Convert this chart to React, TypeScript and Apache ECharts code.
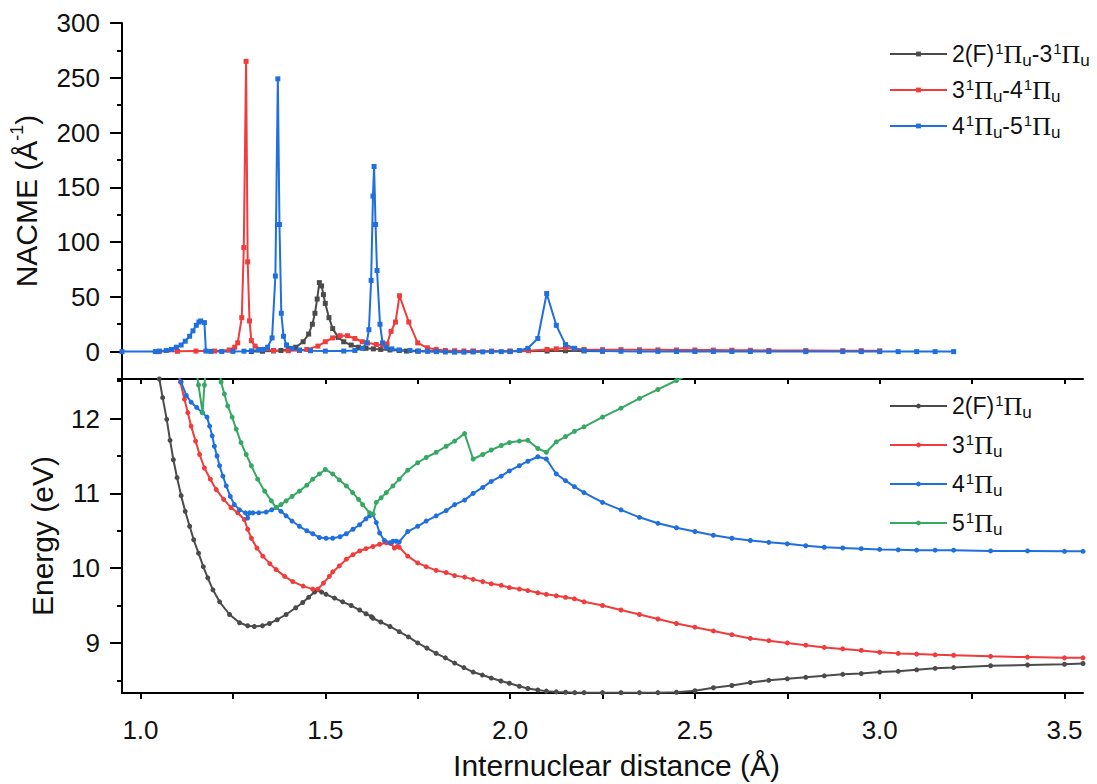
import React, { useEffect, useRef } from 'react';
import * as echarts from 'echarts';

// ---------- tick values ----------
const xMajorTicks = [1.0, 1.5, 2.0, 2.5, 3.0, 3.5];
const xAllTicks = [1.0, 1.25, 1.5, 1.75, 2.0, 2.25, 2.5, 2.75, 3.0, 3.25, 3.5];
const nacmeMajorTicks = [0, 50, 100, 150, 200, 250, 300];
const nacmeMinorTicks = [-25, 25, 75, 125, 175, 225, 275];
const energyMajorTicks = [9, 10, 11, 12];
const energyMinorTicks = [8.5, 9.5, 10.5, 11.5, 12.5];

// ---------- NACME (top panel) [R, NACME] ----------
const nacmeF3: [number, number][] = [
  [1.30, 0], [1.33, 0.3], [1.36, 0.6], [1.38, 1], [1.40, 2], [1.42, 4], [1.44, 9], [1.455, 16],
  [1.465, 25], [1.472, 35], [1.478, 48], [1.484, 63], [1.49, 60], [1.495, 52], [1.50, 44],
  [1.51, 31], [1.52, 21], [1.535, 13], [1.55, 9], [1.57, 6], [1.59, 4], [1.61, 3], [1.63, 2.5],
  [1.65, 2], [1.675, 1.5], [1.70, 1], [1.72, 0.5], [1.75, 0.4], [1.80, 0.3], [1.90, 0.3],
  [2.0, 0.3], [2.1, 0.5], [2.15, 0.8], [2.2, 0.6], [2.25, 0.4],
];
const nacme34: [number, number][] = [
  [1.05, 0], [1.10, 0.3], [1.15, 0.5], [1.20, 0.5], [1.24, 1.5], [1.255, 4], [1.263, 8],
  [1.274, 31], [1.2795, 95], [1.2857, 265], [1.290, 82], [1.295, 28], [1.30, 10], [1.31, 5],
  [1.33, 2], [1.36, 1], [1.40, 0.8], [1.43, 1], [1.45, 2], [1.48, 5], [1.50, 9], [1.52, 12.5],
  [1.54, 14.5], [1.56, 14.5], [1.58, 12], [1.60, 9], [1.614, 8], [1.638, 6.5], [1.655, 6],
  [1.667, 7], [1.678, 18.5], [1.69, 27], [1.7007, 51], [1.726, 27], [1.75, 8], [1.776, 3.5],
  [1.80, 2], [1.825, 1], [1.85, 0.8], [1.875, 0.6], [1.90, 0.5], [1.95, 0.5], [2.0, 0.5],
  [2.05, 0.8], [2.10, 2], [2.125, 2.5], [2.15, 3.5], [2.175, 2.5], [2.20, 2], [2.25, 1.8],
  [2.30, 1.8], [2.35, 1.7], [2.40, 1.6], [2.45, 1.5], [2.50, 1.5], [2.55, 1.4], [2.60, 1.3],
  [2.65, 1.2], [2.70, 1.1], [2.80, 1], [2.90, 0.9], [2.95, 0.9], [3.0, 0.8],
];
const nacme45: [number, number][] = [
  [0.95, 0], [1.04, 0], [1.051, 0.5], [1.07, 1], [1.084, 2], [1.097, 4], [1.11, 6], [1.121, 9.5],
  [1.133, 14], [1.142, 19], [1.151, 24], [1.158, 27], [1.163, 28], [1.173, 26.5], [1.177, 0.5],
  [1.19, 0.2], [1.22, 0.1], [1.25, 0.2], [1.28, 0.4], [1.30, 0.7], [1.32, 1.5], [1.333, 2],
  [1.344, 4], [1.356, 12.5], [1.365, 69], [1.3716, 249], [1.376, 116], [1.381, 35], [1.387, 14],
  [1.395, 6], [1.41, 3], [1.43, 1.5], [1.46, 0.8], [1.50, 0.5], [1.55, 0.5], [1.58, 1], [1.60, 3],
  [1.612, 8], [1.618, 20], [1.624, 65], [1.629, 142], [1.632, 169], [1.636, 116], [1.640, 74],
  [1.648, 25], [1.655, 8], [1.665, 4], [1.68, 2.5], [1.70, 1.5], [1.729, 1], [1.752, 0.5],
  [1.777, 0.2], [1.801, 0], [1.825, -0.3], [1.85, -0.5], [1.875, -0.5], [1.90, -0.3],
  [1.926, -0.2], [1.95, 0], [1.976, 0], [2.0, 0], [2.025, 1], [2.048, 3], [2.075, 12],
  [2.099, 53], [2.125, 24], [2.15, 6.4], [2.174, 3], [2.20, 1], [2.25, 0.5], [2.30, 0.3],
  [2.35, 0.2], [2.40, 0.2], [2.45, 0.1], [2.50, 0.1], [2.55, 0.1], [2.60, 0.1], [2.65, 0.1],
  [2.70, 0.1], [2.80, 0], [2.90, 0], [2.95, 0], [3.0, 0], [3.05, 0], [3.10, 0], [3.15, 0], [3.20, 0],
];

// ---------- Energies (bottom panel) [R, eV] ----------
const energyF: [number, number][] = [
  [1.045, 12.75], [1.051, 12.53], [1.060, 12.28], [1.071, 11.99], [1.080, 11.71], [1.089, 11.45],
  [1.099, 11.21], [1.110, 10.97], [1.121, 10.76], [1.133, 10.56], [1.144, 10.38], [1.157, 10.20],
  [1.170, 10.02], [1.182, 9.87], [1.196, 9.71], [1.214, 9.55], [1.241, 9.38], [1.268, 9.27],
  [1.29, 9.23], [1.308, 9.22], [1.33, 9.23], [1.349, 9.26], [1.37, 9.31], [1.394, 9.38],
  [1.42, 9.47], [1.439, 9.54], [1.455, 9.61], [1.471, 9.68], [1.48, 9.71], [1.49, 9.68],
  [1.502, 9.65], [1.525, 9.6], [1.547, 9.55], [1.57, 9.5], [1.593, 9.44], [1.61, 9.39],
  [1.625, 9.35], [1.629, 9.33], [1.65, 9.28], [1.675, 9.22], [1.70, 9.15], [1.725, 9.08],
  [1.75, 9.0], [1.775, 8.93], [1.80, 8.86], [1.825, 8.8], [1.85, 8.73], [1.875, 8.67],
  [1.90, 8.61], [1.925, 8.57], [1.949, 8.53], [1.975, 8.49], [1.998, 8.46], [2.025, 8.42],
  [2.048, 8.39], [2.075, 8.37], [2.098, 8.355], [2.125, 8.345], [2.15, 8.34], [2.175, 8.335],
  [2.20, 8.335], [2.25, 8.335], [2.30, 8.335], [2.35, 8.335], [2.40, 8.335], [2.45, 8.34],
  [2.50, 8.36], [2.55, 8.40], [2.60, 8.43], [2.65, 8.47], [2.70, 8.50], [2.75, 8.52],
  [2.80, 8.54], [2.85, 8.56], [2.90, 8.58], [2.95, 8.59], [3.0, 8.61], [3.05, 8.62],
  [3.10, 8.64], [3.15, 8.66], [3.20, 8.67], [3.30, 8.695], [3.40, 8.705], [3.50, 8.715], [3.55, 8.725],
];
const energy3: [number, number][] = [
  [1.10, 12.65], [1.108, 12.49], [1.119, 12.26], [1.128, 12.08], [1.137, 11.90], [1.149, 11.70],
  [1.16, 11.52], [1.173, 11.34], [1.189, 11.19], [1.205, 11.05], [1.225, 10.92], [1.245, 10.81],
  [1.263, 10.74], [1.281, 10.65], [1.29, 10.52], [1.30, 10.40], [1.315, 10.27], [1.331, 10.16],
  [1.35, 10.06], [1.367, 9.98], [1.39, 9.89], [1.412, 9.82], [1.44, 9.76], [1.466, 9.72],
  [1.48, 9.72], [1.495, 9.8], [1.511, 9.89], [1.52, 9.95], [1.538, 10.03], [1.557, 10.12],
  [1.575, 10.18], [1.593, 10.23], [1.61, 10.26], [1.629, 10.29], [1.647, 10.32], [1.665, 10.34],
  [1.678, 10.33], [1.687, 10.27], [1.695, 10.29], [1.70, 10.28], [1.723, 10.16], [1.75, 10.07],
  [1.773, 10.02], [1.80, 9.97], [1.827, 9.94], [1.85, 9.90], [1.877, 9.88], [1.90, 9.85],
  [1.926, 9.82], [1.949, 9.79], [1.976, 9.77], [1.998, 9.74], [2.025, 9.72], [2.048, 9.70],
  [2.075, 9.67], [2.098, 9.65], [2.125, 9.63], [2.15, 9.61], [2.174, 9.59], [2.20, 9.55],
  [2.25, 9.50], [2.30, 9.44], [2.35, 9.38], [2.40, 9.32], [2.45, 9.26], [2.50, 9.21],
  [2.55, 9.16], [2.60, 9.11], [2.65, 9.06], [2.70, 9.03], [2.75, 9.0], [2.80, 8.97],
  [2.85, 8.94], [2.90, 8.92], [2.95, 8.90], [3.0, 8.875], [3.05, 8.86], [3.10, 8.85],
  [3.15, 8.84], [3.20, 8.835], [3.30, 8.82], [3.40, 8.81], [3.50, 8.80], [3.55, 8.80],
];
const energy4: [number, number][] = [
  [1.10, 12.6], [1.11, 12.49], [1.124, 12.31], [1.137, 12.22], [1.152, 12.15], [1.167, 12.08],
  [1.18, 12.02], [1.187, 11.90], [1.194, 11.77], [1.20, 11.63], [1.207, 11.50], [1.214, 11.37],
  [1.223, 11.23], [1.232, 11.10], [1.243, 10.96], [1.254, 10.85], [1.268, 10.78], [1.284, 10.74],
  [1.29, 10.67], [1.295, 10.74], [1.304, 10.74], [1.32, 10.74], [1.34, 10.75], [1.355, 10.78],
  [1.367, 10.81], [1.38, 10.76], [1.394, 10.70], [1.41, 10.63], [1.43, 10.56], [1.45, 10.5],
  [1.466, 10.46], [1.484, 10.41], [1.502, 10.40], [1.52, 10.40], [1.54, 10.42], [1.557, 10.46],
  [1.575, 10.52], [1.593, 10.58], [1.61, 10.66], [1.62, 10.70], [1.629, 10.72], [1.638, 10.61],
  [1.647, 10.47], [1.66, 10.37], [1.674, 10.34], [1.683, 10.36], [1.692, 10.36], [1.70, 10.35],
  [1.723, 10.49], [1.75, 10.56], [1.773, 10.63], [1.80, 10.70], [1.827, 10.77], [1.85, 10.85],
  [1.877, 10.91], [1.90, 11.0], [1.926, 11.08], [1.949, 11.16], [1.976, 11.23], [1.998, 11.30],
  [2.025, 11.37], [2.048, 11.43], [2.075, 11.49], [2.098, 11.46], [2.125, 11.26], [2.15, 11.17],
  [2.174, 11.09], [2.20, 11.01], [2.25, 10.88], [2.30, 10.78], [2.35, 10.68], [2.40, 10.60],
  [2.45, 10.54], [2.50, 10.49], [2.55, 10.44], [2.60, 10.40], [2.65, 10.37], [2.70, 10.345],
  [2.75, 10.325], [2.80, 10.30], [2.85, 10.28], [2.90, 10.27], [2.95, 10.26], [3.0, 10.25],
  [3.05, 10.245], [3.10, 10.24], [3.15, 10.24], [3.20, 10.24], [3.30, 10.23], [3.40, 10.23],
  [3.50, 10.225], [3.55, 10.225],
];
const energy5: [number, number][] = [
  [1.148, 12.75], [1.157, 12.45], [1.168, 12.08], [1.173, 12.45], [1.178, 12.75], [1.212, 12.75],
  [1.218, 12.49], [1.227, 12.33], [1.236, 12.17], [1.248, 12.02], [1.259, 11.86], [1.272, 11.68],
  [1.286, 11.52], [1.30, 11.37], [1.317, 11.19], [1.336, 11.03], [1.354, 10.90], [1.367, 10.81],
  [1.38, 10.85], [1.394, 10.90], [1.41, 10.96], [1.43, 11.03], [1.45, 11.11], [1.466, 11.19],
  [1.484, 11.26], [1.50, 11.32], [1.52, 11.26], [1.538, 11.18], [1.557, 11.10], [1.574, 11.01],
  [1.59, 10.92], [1.601, 10.85], [1.62, 10.74], [1.629, 10.72], [1.638, 10.88], [1.651, 10.94],
  [1.665, 11.01], [1.683, 11.10], [1.70, 11.19], [1.723, 11.31], [1.75, 11.41], [1.773, 11.48],
  [1.80, 11.55], [1.827, 11.63], [1.85, 11.70], [1.877, 11.80], [1.90, 11.46], [1.926, 11.52],
  [1.949, 11.58], [1.976, 11.64], [1.998, 11.68], [2.025, 11.70], [2.048, 11.71], [2.075, 11.60],
  [2.098, 11.55], [2.125, 11.69], [2.15, 11.76], [2.174, 11.83], [2.20, 11.89], [2.25, 12.02],
  [2.30, 12.14], [2.35, 12.27], [2.40, 12.39], [2.45, 12.51], [2.50, 12.63],
];

// ---------- labels ----------
const nacmeNames = ['2(F)1Πu-31Πu', '31Πu-41Πu', '41Πu-51Πu'];
const energyNames = ['2(F)1Πu', '31Πu', '41Πu', '51Πu'];
const richNames: Record<string, string> = {
  '2(F)1Πu-31Πu': '{n|2(F)}{sup|1}{pi|Π}{sub|u}{n|-3}{sup|1}{pi|Π}{sub|u}',
  '31Πu-41Πu': '{n|3}{sup|1}{pi|Π}{sub|u}{n|-4}{sup|1}{pi|Π}{sub|u}',
  '41Πu-51Πu': '{n|4}{sup|1}{pi|Π}{sub|u}{n|-5}{sup|1}{pi|Π}{sub|u}',
  '2(F)1Πu': '{n|2(F)}{sup|1}{pi|Π}{sub|u}',
  '31Πu': '{n|3}{sup|1}{pi|Π}{sub|u}',
  '41Πu': '{n|4}{sup|1}{pi|Π}{sub|u}',
  '51Πu': '{n|5}{sup|1}{pi|Π}{sub|u}',
};

const COLORS = ['#4b4b4b', '#f03c3c', '#1f6fde', '#36a862'];
const SANS = '"Liberation Sans", Arial, sans-serif';
const SERIF = '"Liberation Serif", "Times New Roman", serif';
const TXT = '#111';

const legendRich = {
  n: { fontSize: 23, fontFamily: SANS, color: TXT, lineHeight: 30, verticalAlign: 'middle' },
  sup: { fontSize: 15, fontFamily: SANS, color: TXT, lineHeight: 14, verticalAlign: 'top', padding: [2, 0, 0, 1] },
  pi: { fontSize: 26, fontFamily: SERIF, color: TXT, lineHeight: 30, verticalAlign: 'middle' },
  sub: { fontSize: 17, fontFamily: SANS, color: TXT, lineHeight: 16, verticalAlign: 'bottom' },
};

function buildOption(): any {
  const axisLineStyle = { color: '#000', width: 2 };
  const yLabel = { fontSize: 26, fontFamily: SANS, color: TXT, margin: 22 };
  return {
    animation: false,
    backgroundColor: '#fff',
    textStyle: { fontFamily: SANS },
    grid: [
      { left: 122, right: 14, top: 23, height: 356 },
      { left: 122, right: 14, top: 379, height: 314 },
    ],
    xAxis: [
      { gridIndex: 0, type: 'value', min: 0.95, max: 3.55, show: false },
      {
        gridIndex: 1, type: 'value', min: 0.95, max: 3.55, position: 'bottom',
        axisLine: { show: true, onZero: false, lineStyle: axisLineStyle },
        axisTick: { show: true, customValues: xAllTicks, length: 6, lineStyle: { width: 2, color: '#000' } },
        axisLabel: {
          customValues: xMajorTicks, fontSize: 26, fontFamily: SANS, color: TXT, margin: 24,
          formatter: (v: number) => v.toFixed(1),
        },
        splitLine: { show: false },
        name: 'Internuclear distance (Å)', nameLocation: 'middle', nameGap: 57,
        nameTextStyle: { fontSize: 30, fontFamily: SANS, color: TXT, padding: [0, 0, 0, 28] },
      },
      {
        gridIndex: 1, type: 'value', min: 0.95, max: 3.55, position: 'top',
        axisLine: { show: true, onZero: false, lineStyle: axisLineStyle },
        axisTick: { show: true, inside: true, customValues: xAllTicks, length: 5, lineStyle: { width: 2, color: '#000' } },
        axisLabel: { show: false },
        splitLine: { show: false },
      },
    ],
    yAxis: [
      {
        gridIndex: 0, type: 'value', min: -25, max: 300, position: 'left',
        axisLine: { show: true, onZero: false, lineStyle: axisLineStyle },
        axisTick: { show: true, customValues: nacmeMajorTicks, length: 12, lineStyle: { width: 2, color: '#000' } },
        axisLabel: { customValues: nacmeMajorTicks, ...yLabel },
        splitLine: { show: false },
        name: '{t|NACME (Å}{s|-1}{t|)}', nameLocation: 'middle', nameRotate: 90, nameGap: 78,
        nameTextStyle: {
          rich: {
            t: { fontSize: 30, fontFamily: SANS, color: TXT, lineHeight: 36 },
            s: { fontSize: 18, fontFamily: SANS, color: TXT, verticalAlign: 'top', lineHeight: 18 },
          },
        },
      },
      {
        gridIndex: 0, type: 'value', min: -25, max: 300, position: 'left',
        axisLine: { show: false },
        axisTick: { show: true, customValues: nacmeMinorTicks, length: 5, lineStyle: { width: 2, color: '#000' } },
        axisLabel: { show: false },
        splitLine: { show: false },
      },
      {
        gridIndex: 1, type: 'value', min: 8.33, max: 12.53, position: 'left',
        axisLine: { show: true, onZero: false, lineStyle: axisLineStyle },
        axisTick: { show: true, customValues: energyMajorTicks, length: 12, lineStyle: { width: 2, color: '#000' } },
        axisLabel: { customValues: energyMajorTicks, ...yLabel },
        splitLine: { show: false },
        name: 'Energy (eV)', nameLocation: 'middle', nameRotate: 90, nameGap: 65,
        nameTextStyle: { fontSize: 30, fontFamily: SANS, color: TXT },
      },
      {
        gridIndex: 1, type: 'value', min: 8.33, max: 12.53, position: 'left',
        axisLine: { show: false },
        axisTick: { show: true, customValues: energyMinorTicks, length: 5, lineStyle: { width: 2, color: '#000' } },
        axisLabel: { show: false },
        splitLine: { show: false },
      },
    ],
    legend: [
      {
        data: nacmeNames, orient: 'vertical', left: 884, top: 34, itemWidth: 57, itemHeight: 6,
        itemGap: 6, selectedMode: false, formatter: (n: string) => richNames[n] || n,
        textStyle: { rich: legendRich },
      },
      {
        data: energyNames, orient: 'vertical', left: 884, top: 386, itemWidth: 57, itemHeight: 6,
        itemGap: 9, selectedMode: false, formatter: (n: string) => richNames[n] || n,
        textStyle: { rich: legendRich },
      },
    ],
    series: [
      ...[nacmeF3, nacme34, nacme45].map((d, i) => ({
        name: nacmeNames[i], type: 'line', xAxisIndex: 0, yAxisIndex: 0, data: d,
        symbol: 'rect', symbolSize: 5, showAllSymbol: true,
        lineStyle: { color: COLORS[i], width: 2 }, itemStyle: { color: COLORS[i] },
      })),
      ...[energyF, energy3, energy4, energy5].map((d, i) => ({
        name: energyNames[i], type: 'line', xAxisIndex: 1, yAxisIndex: 2, data: d,
        symbol: 'circle', symbolSize: 5, showAllSymbol: true,
        lineStyle: { color: COLORS[i], width: 2 }, itemStyle: { color: COLORS[i] },
      })),
    ],
  };
}

export default function App() {
  const ref = useRef<HTMLDivElement>(null);
  useEffect(() => {
    if (!ref.current) return;
    const chart = echarts.init(ref.current, null, { renderer: 'svg' });
    chart.setOption(buildOption());
    return () => chart.dispose();
  }, []);
  return (
    <div
      ref={ref}
      style={{ position: 'absolute', left: 0, top: 0, width: 1097, height: 784, background: '#fff' }}
    />
  );
}
